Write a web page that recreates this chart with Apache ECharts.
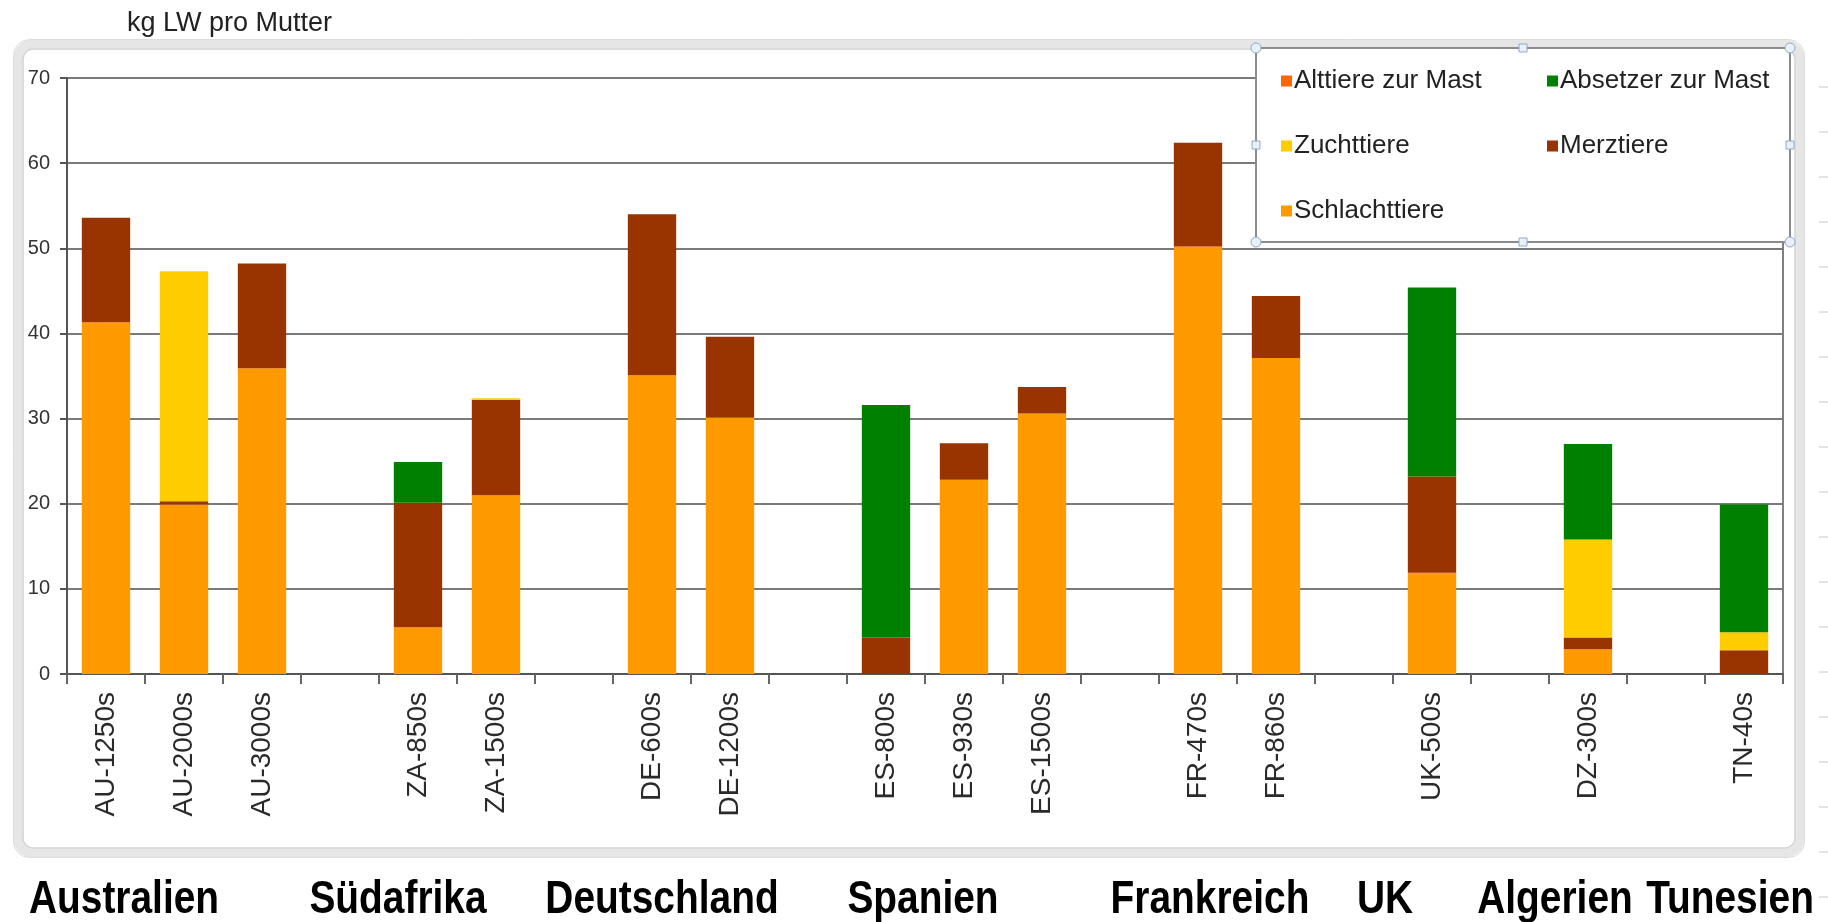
<!DOCTYPE html>
<html>
<head>
<meta charset="utf-8">
<script src="https://cdn.jsdelivr.net/npm/echarts@6/dist/echarts.min.js"></script>
<style>
html,body{margin:0;padding:0;background:#fff;}
#c{width:1828px;height:922px;}
</style>
</head>
<body>
<div id="c"></div>
<script>
// ---- data ----
const categories = ['AU-1250s','AU-2000s','AU-3000s','','ZA-850s','ZA-1500s','','DE-600s','DE-1200s','','ES-800s','ES-930s','ES-1500s','','FR-470s','FR-860s','','UK-500s','','DZ-300s','','TN-40s'];
const schlachttiere = [41.3, 19.9, 35.9, null, 5.5, 21.0, null, 35.1, 30.1, null, 0, 22.8, 30.6, null, 50.2, 37.1, null, 11.9, null, 2.9, null, 0];
const merztiere     = [12.3, 0.4, 12.3, null, 14.6, 11.2, null, 18.9, 9.5, null, 4.3, 4.3, 3.1, null, 12.2, 7.3, null, 11.3, null, 1.4, null, 2.8];
const zuchttiere    = [0, 27.0, 0, null, 0, 0.2, null, 0, 0, null, 0, 0, 0, null, 0, 0, null, 0, null, 11.5, null, 2.1];
const absetzer      = [0, 0, 0, null, 4.8, 0, null, 0, 0, null, 27.3, 0, 0, null, 0, 0, null, 22.2, null, 11.2, null, 15.0];
const alttiere      = [0, 0, 0, null, 0, 0, null, 0, 0, null, 0, 0, 0, null, 0, 0, null, 0, null, 0, null, 0];
const yTicks = [0, 10, 20, 30, 40, 50, 60, 70];
const countries = ['Australien','Südafrika','Deutschland','Spanien','Frankreich','UK','Algerien','Tunesien'];
const countryX = [124, 398, 662, 923, 1210, 1385, 1555, 1730];

// ---- chart ----
const FONT = "'Liberation Sans', Arial, sans-serif";
const chart = echarts.init(document.getElementById('c'), null, {renderer: 'canvas'});

function barSeries(name, data, color) {
  return {
    name: name, type: 'bar', stack: 'total', data: data,
    barCategoryGap: '38%',
    itemStyle: {color: color},
    emphasis: {disabled: true}
  };
}

const graphics = [];
// chart frame (light double border with rounded corners)
graphics.push({type: 'rect', shape: {x: 18, y: 44, width: 1782, height: 809, r: 14},
  style: {fill: 'none', stroke: '#e6e6e6', lineWidth: 9}, z: -1, silent: true});
graphics.push({type: 'rect', shape: {x: 23, y: 49, width: 1772, height: 799, r: 10},
  style: {fill: 'none', stroke: '#d2d2d2', lineWidth: 1.5}, z: -1, silent: true});
graphics.push({type: 'rect', shape: {x: 13.5, y: 39.5, width: 1791, height: 818, r: 16},
  style: {fill: 'none', stroke: '#dcdcdc', lineWidth: 1}, z: -1, silent: true});
// legend box
const LB = {x: 1256, y: 48, w: 534, h: 194};
graphics.push({type: 'rect', shape: {x: LB.x, y: LB.y, width: LB.w, height: LB.h},
  style: {fill: '#fff', stroke: '#8c8c8c', lineWidth: 2}, z: 3, silent: true});
// selection handles
[[LB.x, LB.y], [LB.x + LB.w, LB.y], [LB.x, LB.y + LB.h], [LB.x + LB.w, LB.y + LB.h]].forEach(p => {
  graphics.push({type: 'circle', shape: {cx: p[0], cy: p[1], r: 5},
    style: {fill: '#e8f1fa', stroke: '#8eaacb', lineWidth: 1}, z: 5, silent: true});
});
[[LB.x + LB.w / 2, LB.y], [LB.x + LB.w / 2, LB.y + LB.h], [LB.x, LB.y + LB.h / 2], [LB.x + LB.w, LB.y + LB.h / 2]].forEach(p => {
  graphics.push({type: 'rect', shape: {x: p[0] - 4, y: p[1] - 4, width: 8, height: 8},
    style: {fill: '#e8f1fa', stroke: '#8eaacb', lineWidth: 1}, z: 5, silent: true});
});
// right-edge dashes
for (let y = 87; y < 900; y += 45) {
  graphics.push({type: 'line', shape: {x1: 1819, y1: y, x2: 1828, y2: y},
    style: {stroke: '#c8c8c8', lineWidth: 1}, silent: true});
}
// country labels (condensed bold)
countries.forEach((c, i) => {
  graphics.push({type: 'text', x: countryX[i], y: 923, scaleX: 0.845,
    style: {text: c, fill: '#000', fontSize: 46, fontWeight: 'bold',
      fontFamily: FONT, textAlign: 'center', textVerticalAlign: 'bottom'}, silent: true});
});

const option = {
  animation: false,
  backgroundColor: '#fff',
  textStyle: {fontFamily: FONT},
  title: {
    text: 'kg LW pro Mutter', left: 122, top: 5,
    textStyle: {fontFamily: FONT, fontSize: 27, fontWeight: 'normal', color: '#222'}
  },
  grid: {left: 67, right: 45, top: 78, bottom: 248, show: true, borderColor: '#808080', borderWidth: 2, backgroundColor: 'transparent'},
  legend: [
    {
      data: ['Alttiere zur Mast', 'Zuchttiere', 'Schlachttiere'],
      orient: 'vertical', left: 1276, top: 63, itemGap: 39,
      itemWidth: 11, itemHeight: 11, icon: 'rect', itemStyle: {borderWidth: 0},
      selectedMode: false,
      textStyle: {fontFamily: FONT, fontSize: 26, color: '#222', lineHeight: 26, padding: [0, 0, 0, -3]}
    },
    {
      data: ['Absetzer zur Mast', 'Merztiere'],
      orient: 'vertical', left: 1542, top: 63, itemGap: 39,
      itemWidth: 11, itemHeight: 11, icon: 'rect', itemStyle: {borderWidth: 0},
      selectedMode: false,
      textStyle: {fontFamily: FONT, fontSize: 26, color: '#222', lineHeight: 26, padding: [0, 0, 0, -3]}
    }
  ],
  xAxis: {
    type: 'category', data: categories, boundaryGap: true,
    axisLine: {show: true, lineStyle: {color: '#555', width: 2}},
    axisTick: {show: true, length: 10, interval: 0, lineStyle: {color: '#666', width: 2}},
    axisLabel: {interval: 0, rotate: 90, margin: 18, fontSize: 28, color: '#2a2a2a', fontFamily: FONT},
    splitLine: {show: false}
  },
  yAxis: {
    type: 'value', min: yTicks[0], max: yTicks[yTicks.length - 1], interval: 10,
    axisLine: {show: true, lineStyle: {color: '#555', width: 2}},
    axisTick: {show: true, length: 7, lineStyle: {color: '#555', width: 2}},
    axisLabel: {fontSize: 20, color: '#333', margin: 17, fontFamily: FONT},
    splitLine: {show: true, lineStyle: {color: '#7a7a7a', width: 2}}
  },
  series: [
    barSeries('Schlachttiere', schlachttiere, '#FF9900'),
    barSeries('Merztiere', merztiere, '#993300'),
    barSeries('Zuchttiere', zuchttiere, '#FFCC00'),
    barSeries('Absetzer zur Mast', absetzer, '#008000'),
    barSeries('Alttiere zur Mast', alttiere, '#FF6600')
  ],
  graphic: graphics
};
chart.setOption(option);
</script>
</body>
</html>
